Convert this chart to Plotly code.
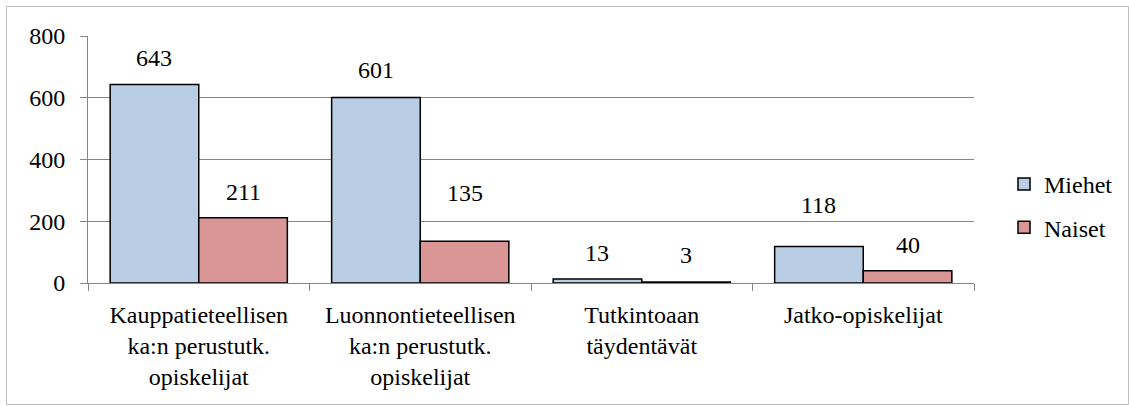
import plotly.graph_objects as go

categories = [
    "Kauppatieteellisen<br>ka:n perustutk.<br>opiskelijat",
    "Luonnontieteellisen<br>ka:n perustutk.<br>opiskelijat",
    "Tutkintoaan<br>täydentävät",
    "Jatko-opiskelijat",
]
miehet = [643, 601, 13, 118]
naiset = [211, 135, 3, 40]
series_names = ["Miehet", "Naiset"]

# label lift above bar top (px) as placed in the original
lift_miehet = [26, 27, 26, 42]
lift_naiset = [26, 48, 27, 26]

W, H = 1129, 406
ML, MR, MT, MB = 88, 155, 36, 123
pw = W - ML - MR
ph = H - MT - MB

FONT = "'Liberation Serif', Tinos, 'Times New Roman', serif"
fig = go.Figure()
fig.add_trace(go.Bar(x=categories, y=miehet, name=series_names[0], legendgroup="a",
                     marker=dict(color="#B9CDE5", line=dict(color="#000000", width=1.5))))
fig.add_trace(go.Bar(x=categories, y=naiset, name=series_names[1], legendgroup="b",
                     marker=dict(color="#D99694", line=dict(color="#000000", width=1.5))))

catw = pw / len(categories)
shift = 0.2 * catw
ann = []
for vals, lifts, dx in ((miehet, lift_miehet, -shift), (naiset, lift_naiset, shift)):
    for c, v, l in zip(categories, vals, lifts):
        ann.append(dict(x=c, y=v, xref="x", yref="y", text=str(v), showarrow=False,
                        xshift=dx, yshift=l, yanchor="middle", xanchor="center",
                        font=dict(family=FONT, size=24, color="#000000")))

# outer chart border
bx0, bx1, by0, by1 = 6.5, 1128.5, 6.5, 404.5
shapes = [dict(type="rect", xref="paper", yref="paper",
               x0=(bx0 - ML) / pw, x1=(bx1 - ML) / pw,
               y0=(H - MB - by1) / ph, y1=(H - MB - by0) / ph,
               line=dict(color="#BFBFBF", width=1), fillcolor="rgba(0,0,0,0)", layer="below")]

fig.update_layout(
    width=W, height=H,
    margin=dict(l=ML, r=MR, t=MT, b=MB, pad=0, autoexpand=False),
    paper_bgcolor="white", plot_bgcolor="white",
    font=dict(family=FONT, size=24, color="#000000"),
    barmode="group", bargap=0.2, bargroupgap=0,
    annotations=ann, shapes=shapes,
    legend=dict(xref="container", yref="container",
                x=1004 / W, xanchor="left", y=(H - 162) / H, yanchor="top",
                tracegroupgap=9, traceorder="grouped",
                font=dict(family=FONT, size=24, color="#000000"),
                itemwidth=30, bgcolor="rgba(0,0,0,0)"),
    xaxis=dict(type="category", showline=True, linecolor="#868686", linewidth=1,
               ticks="outside", tickson="boundaries", ticklen=7, tickcolor="#868686",
               showgrid=False, tickangle=0, automargin=False, ticklabelstandoff=10,
               tickfont=dict(family=FONT, size=24, color="#000000")),
    yaxis=dict(range=[0, 800], dtick=200, showline=True, linecolor="#868686", linewidth=1,
               ticks="outside", ticklen=7, tickcolor="#868686",
               showgrid=True, gridcolor="#868686", gridwidth=1, zeroline=False,
               ticklabelstandoff=10, automargin=False,
               tickfont=dict(family=FONT, size=24, color="#000000")),
)

fig.write_html("out.html", config={"displayModeBar": False},
               post_script="document.body.style.margin='0';")
